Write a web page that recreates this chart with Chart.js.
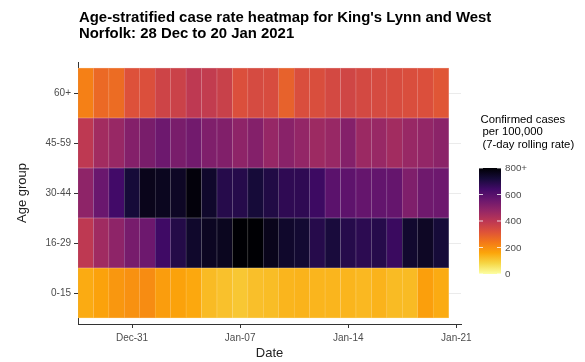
<!DOCTYPE html>
<html>
<head>
<meta charset="utf-8">
<script src="https://cdn.jsdelivr.net/npm/chart.js@4.4.1/dist/chart.umd.min.js"></script>
<style>
  html, body { margin: 0; padding: 0; background: #fff; }
</style>
</head>
<body>
<canvas id="heat" width="585" height="362"></canvas>
<script>
// one column per day, 28 Dec 2020 .. 20 Jan 2021
const dayLabels = ['28 Dec', '29 Dec', '30 Dec', '31 Dec', '1 Jan', '2 Jan', '3 Jan', '4 Jan',
  '5 Jan', '6 Jan', '7 Jan', '8 Jan', '9 Jan', '10 Jan', '11 Jan', '12 Jan', '13 Jan',
  '14 Jan', '15 Jan', '16 Jan', '17 Jan', '18 Jan', '19 Jan', '20 Jan'];

// rows, bottom to top
const ageGroups = ['0-15', '16-29', '30-44', '45-59', '60+'];

// 7-day rolling rate per 100,000
const rate0to15 = [150, 165, 185, 195, 205, 175, 165, 155, 125, 115, 105, 118, 122, 135, 138, 135, 135, 135, 130, 138, 125, 125, 170, 150];
const rate16to29 = [395, 455, 490, 535, 555, 645, 695, 740, 755, 760, 830, 850, 765, 740, 730, 690, 715, 690, 680, 690, 655, 735, 750, 720];
const rate30to44 = [490, 560, 640, 720, 765, 760, 750, 790, 740, 690, 690, 720, 700, 675, 675, 650, 590, 585, 570, 575, 570, 520, 550, 555];
const rate45to59 = [395, 450, 470, 510, 530, 555, 530, 545, 520, 515, 490, 510, 475, 500, 480, 460, 470, 510, 465, 470, 450, 470, 480, 495];
const rate60plus = [225, 270, 265, 320, 325, 360, 365, 395, 385, 370, 325, 340, 335, 285, 330, 330, 345, 355, 345, 340, 335, 330, 325, 310];

// x axis ticks (day index from 28 Dec)
const xTickDays = [3, 10, 17, 24];
const xTickLabels = ['Dec-31', 'Jan-07', 'Jan-14', 'Jan-21'];

// colour bar
const legendValues = [0, 200, 400, 600, 800];
const legendLabels = ['0', '200', '400', '600', '800+'];
const rateMax = 800;

const rates = [rate0to15, rate16to29, rate30to44, rate45to59, rate60plus];

// inferno, dark (high) to light (low)
const inferno = ['#000004', '#160b39', '#420a68', '#6a176e', '#932667', '#bc3754',
  '#dd513a', '#f37819', '#fca50a', '#f6d746', '#fcffa4'];

function hexToRgb(h) {
  return [parseInt(h.slice(1, 3), 16), parseInt(h.slice(3, 5), 16), parseInt(h.slice(5, 7), 16)];
}

function rateColour(v, mixWhite) {
  const t = (1 - Math.min(v, rateMax) / rateMax) * (inferno.length - 1);
  const i = Math.min(Math.floor(t), inferno.length - 2);
  const f = t - i;
  const a = hexToRgb(inferno[i]), b = hexToRgb(inferno[i + 1]);
  const c = a.map((x, k) => x + (b[k] - x) * f);
  const m = mixWhite || 0;
  const out = c.map(x => Math.round(x + (255 - x) * m));
  return 'rgb(' + out.join(',') + ')';
}

const FONT = "'Liberation Sans', Arial, sans-serif";

// title and colour-bar legend
const extras = {
  id: 'extras',
  afterDraw(chart) {
    const ctx = chart.ctx;
    ctx.save();
    ctx.fillStyle = '#000';
    ctx.font = 'bold 14.9px ' + FONT;
    ctx.textBaseline = 'alphabetic';
    ctx.textAlign = 'left';
    ctx.fillText("Age-stratified case rate heatmap for King's Lynn and West", 79, 21.5);
    ctx.fillText('Norfolk: 28 Dec to 20 Jan 2021', 79, 37.5);

    ctx.font = '11.3px ' + FONT;
    ctx.fillText('Confirmed cases', 480.5, 122.5);
    ctx.fillText('per 100,000', 482.5, 135);
    ctx.fillText('(7-day rolling rate)', 482.5, 147.5);

    const bx = 479, bw = 22, top = 168, bottom = 274;
    const grad = ctx.createLinearGradient(0, top, 0, bottom);
    inferno.forEach((c, i) => grad.addColorStop(i / (inferno.length - 1), c));
    ctx.fillStyle = grad;
    ctx.fillRect(bx, top, bw, bottom - top);

    ctx.font = '9.8px ' + FONT;
    ctx.textBaseline = 'middle';
    legendValues.forEach((v, i) => {
      const y = bottom - (v / rateMax) * (bottom - top);
      ctx.strokeStyle = 'rgba(255,255,255,0.8)';
      ctx.lineWidth = 1;
      ctx.beginPath();
      ctx.moveTo(bx, y); ctx.lineTo(bx + 4, y);
      ctx.moveTo(bx + bw - 4, y); ctx.lineTo(bx + bw, y);
      ctx.stroke();
      ctx.fillStyle = '#4d4d4d';
      ctx.fillText(legendLabels[i], 505, y + 0.5);
    });
    ctx.restore();
  }
};

new Chart(document.getElementById('heat'), {
  type: 'bar',
  data: {
    datasets: ageGroups.map((g, r) => ({
      label: g,
      data: rates[r].map((v, i) => ({ x: i, y: [r, r + 1], v: v, day: dayLabels[i] })),
      backgroundColor: c => rateColour(c.raw.v),
      borderColor: c => rateColour(c.raw.v, 0.4),
      borderWidth: 0.5,
      borderSkipped: false,
      barPercentage: 1,
      categoryPercentage: 1,
      grouped: false
    }))
  },
  options: {
    responsive: false,
    devicePixelRatio: 1,
    animation: false,
    layout: { padding: { top: 62, right: 124, bottom: 0, left: 13 } },
    plugins: { legend: { display: false }, tooltip: { enabled: false } },
    scales: {
      x: {
        type: 'linear',
        offset: false,
        min: -0.5,
        max: 24.3,
        afterBuildTicks: s => { s.ticks = xTickDays.map(v => ({ value: v })); },
        afterFit: s => { s.height = 38; },
        ticks: {
          callback: v => xTickLabels[xTickDays.indexOf(v)],
          font: { family: FONT, size: 10 },
          color: '#4d4d4d',
          padding: 4,
          maxRotation: 0
        },
        grid: { offset: false, drawOnChartArea: false, tickLength: 4, tickColor: '#333' },
        border: { color: '#333', width: 1 },
        title: {
          display: true,
          text: 'Date',
          font: { family: FONT, size: 13 },
          color: '#222',
          padding: { top: 0, bottom: 1 }
        }
      },
      y: {
        type: 'linear',
        min: -0.12,
        max: 5.12,
        afterBuildTicks: s => { s.ticks = ageGroups.map((g, i) => ({ value: i + 0.5 })); },
        afterFit: s => { s.width = 65; },
        ticks: {
          callback: v => ageGroups[Math.floor(v)],
          font: { family: FONT, size: 10 },
          color: '#4d4d4d',
          padding: 3
        },
        grid: { color: '#ebebeb', tickLength: 4, tickColor: '#333' },
        border: { color: '#333', width: 1 },
        title: {
          display: true,
          text: 'Age group',
          font: { family: FONT, size: 13 },
          color: '#222',
          padding: { top: 2, bottom: 0 }
        }
      }
    }
  },
  plugins: [extras]
});
</script>
</body>
</html>
